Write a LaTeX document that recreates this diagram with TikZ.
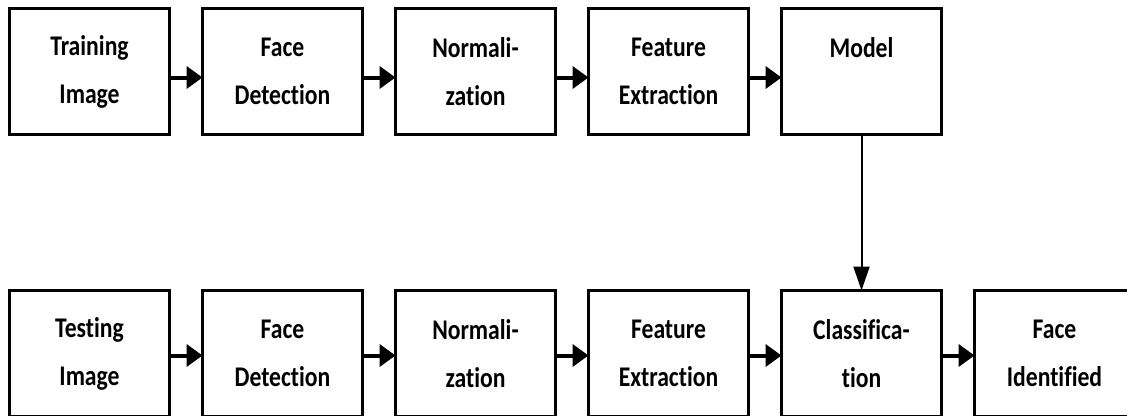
\documentclass[tikz,border=0pt]{standalone}
\usepackage{fontspec}
\setmainfont{Carlito}[FakeStretch=0.83,Ligatures=NoCommon,RawFeature=-liga]
\usepackage{tikz}
\usetikzlibrary{arrows.meta,positioning}
\tikzset{
  stage/.style={draw=black,line width=3pt,fill=white,minimum width=160pt,
    minimum height=126pt,inner sep=0pt,outer sep=0pt,align=center,
    font=\bfseries\fontsize{28.5}{48}\selectfont},
  pipe/.style={-{Triangle[length=16pt,width=22pt]},line width=4pt},
  drop/.style={-{Triangle[length=24pt,width=16pt]},line width=2pt}
}

\begin{document}
\begin{tikzpicture}[node distance=156pt and 33pt]
  \useasboundingbox (0,0) rectangle (1127pt,-415pt);
  \clip (0,0) rectangle (1127pt,-415pt);
  % training row
  \node[stage] (train) at (89.5pt,-71.5pt) {Training\\Image};
  \node[stage,right=of train] (trdetect) {Face\\Detection};
  \node[stage,right=of trdetect] (trnorm) {Normali-\\zation};
  \node[stage,right=of trnorm] (trfeat) {Feature\\Extraction};
  \node[stage,right=of trfeat] (model) {Model\\\mbox{}};
  % testing row
  \node[stage,below=of train] (test) {Testing\\Image};
  \node[stage,right=of test] (tsdetect) {Face\\Detection};
  \node[stage,right=of tsdetect] (tsnorm) {Normali-\\zation};
  \node[stage,right=of tsnorm] (tsfeat) {Feature\\Extraction};
  \node[stage,right=of tsfeat] (classify) {Classifica-\\tion};
  \node[stage,right=of classify] (ident) {Face\\Identified};
  % connectors
  \draw[pipe] ([yshift=-6pt]train.east) -- ([yshift=-6pt]trdetect.west);
  \draw[pipe] ([yshift=-6pt]trdetect.east) -- ([yshift=-6pt]trnorm.west);
  \draw[pipe] ([yshift=-6pt]trnorm.east) -- ([yshift=-6pt]trfeat.west);
  \draw[pipe] ([yshift=-6pt]trfeat.east) -- ([yshift=-6pt]model.west);
  \draw[pipe] ([yshift=-2pt]test.east) -- ([yshift=-2pt]tsdetect.west);
  \draw[pipe] ([yshift=-2pt]tsdetect.east) -- ([yshift=-2pt]tsnorm.west);
  \draw[pipe] ([yshift=-2pt]tsnorm.east) -- ([yshift=-2pt]tsfeat.west);
  \draw[pipe] ([yshift=-2pt]tsfeat.east) -- ([yshift=-2pt]classify.west);
  \draw[pipe] ([yshift=-2pt]classify.east) -- ([yshift=-2pt]ident.west);
  \draw[drop] (model.south) -- (classify.north);
\end{tikzpicture}
\end{document}
